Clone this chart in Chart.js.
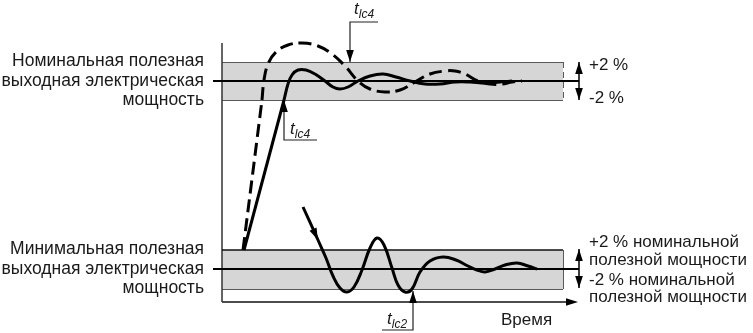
<!DOCTYPE html>
<html>
<head>
<meta charset="utf-8">
<script src="https://cdn.jsdelivr.net/npm/chart.js@4.4.0/dist/chart.umd.min.js"></script>
<style>
  html, body { margin: 0; padding: 0; background: #fff; }
  #wrap { width: 753px; height: 333px; }
</style>
</head>
<body>
<div id="wrap"><canvas id="grafico" width="753" height="333"></canvas></div>
<script>
// Ejes del esquema: tiempo (x) y potencia (y), unidades
const escalaTiempo = [0, 753];
const escalaPotencia = [0, 333];

// Bandas de +-2 % (arriba, centro, abajo) y su extension en el tiempo
const bandaNominal = [62, 81, 100];
const bandaMinima = [250, 269, 289];
const bandaTiempo = [222, 563];
const lineaNivelTiempo = [213, 579];

// Ejes del grafico
const ejeVertical = [[222, 43], [222, 302]];
const ejeTiempo = [[222, 302], [570, 302]];

// Curvas de potencia
const rampaContinua = [[244, 250], [284, 100]];
const curvaContinua = [[284, 100], [288, 84], [292, 75], [298, 70], [306, 70], [315, 74], [325, 81],
  [333, 87], [340, 89], [348, 87], [358, 81], [370, 76], [383, 74], [396, 77], [410, 81], [425, 84],
  [440, 84], [455, 82], [470, 82], [485, 83], [500, 82], [512, 81]];
const rampaDiscontinua = [[243, 250], [262, 100]];
const curvaDiscontinua = [[262, 100], [264, 80], [268, 64], [276, 52], [288, 45], [302, 43], [318, 46],
  [332, 54], [345, 66], [358, 81], [370, 89], [385, 92], [400, 90], [415, 82], [430, 74], [445, 71],
  [455, 71], [465, 74], [478, 81], [490, 84], [502, 84], [512, 82], [522, 81]];
const curvaMinima = [[303, 207], [318, 240], [326, 258], [333, 276], [340, 288], [347, 292], [354, 287],
  [362, 270], [370, 248], [377, 238], [384, 245], [392, 268], [398, 285], [405, 292], [412, 289],
  [420, 272], [430, 261], [443, 257], [456, 260], [468, 266], [477, 270], [485, 272], [495, 269],
  [505, 265], [517, 263], [528, 266], [537, 269]];

// Marcas de tiempo t_lc
const marcaSuperior = [[378, 22], [350, 22], [350, 62]];
const marcaMedia = [[284, 100], [284, 140], [317, 140]];
const marcaInferior = [[413, 291], [413, 330], [382, 330]];
const flechaNominal = [[579, 62], [579, 100]];
const flechaMinima = [[579, 249], [579, 288]];

// Puntas de flecha: [punta, origen]
const puntas = [
  [[578, 302], [560, 302]],
  [[579, 62], [579, 81]], [[579, 100], [579, 81]],
  [[579, 249], [579, 269]], [[579, 288], [579, 269]],
  [[350, 62], [350, 22]], [[284, 100], [284, 140]], [[413, 291], [413, 330]],
  [[318, 240], [303, 207]]
];

// Textos
const textosIzquierda = [
  ['Номинальная полезная', 66], ['выходная электрическая', 86], ['мощность', 105],
  ['Минимальная полезная', 254], ['выходная электрическая', 273.5], ['мощность', 293]
];
const textosDerecha = [
  ['+2 %', 70], ['-2 %', 103],
  ['+2 % номинальной', 247], ['полезной мощности', 265], ['-2 % номинальной', 285], ['полезной мощности', 302]
];
const etiquetasT = [['lc4', 354, 14], ['lc4', 290, 134], ['lc2', 387, 324]];
const textoTiempo = ['Время', 501, 325];

const aPuntos = arr => arr.map(p => ({ x: p[0], y: p[1] }));

function serie(datos, ancho, color, extra) {
  return Object.assign({
    data: aPuntos(datos), showLine: true, pointRadius: 0, borderColor: color,
    borderWidth: ancho, fill: false, tension: 0
  }, extra || {});
}

const fuente = '"Liberation Sans", Arial, sans-serif';

const pluginEsquema = {
  id: 'esquema',
  beforeDatasetsDraw(chart) {
    const { ctx, scales: { x, y } } = chart;
    [bandaNominal, bandaMinima].forEach((b, i) => {
      const x0 = x.getPixelForValue(bandaTiempo[0]), x1 = x.getPixelForValue(bandaTiempo[1]);
      const y0 = y.getPixelForValue(b[0]), y1 = y.getPixelForValue(b[2]);
      ctx.save();
      ctx.fillStyle = '#d6d6d6';
      ctx.fillRect(x0, y0, x1 - x0, y1 - y0);
      ctx.strokeStyle = '#5a5a5a';
      ctx.lineWidth = 1;
      ctx.beginPath();
      ctx.moveTo(x0, y1 + 0.5); ctx.lineTo(x1, y1 + 0.5);
      if (i === 0) { ctx.moveTo(x0, y0 + 0.5); ctx.lineTo(x1, y0 + 0.5); }
      ctx.stroke();
      if (i === 0) ctx.setLineDash([6, 4]);
      ctx.beginPath();
      ctx.moveTo(x1 + 0.5, y0); ctx.lineTo(x1 + 0.5, y1);
      ctx.stroke();
      ctx.restore();
    });
  },
  afterDatasetsDraw(chart) {
    const { ctx, scales: { x, y } } = chart;
    ctx.save();
    ctx.fillStyle = '#000';
    puntas.forEach(([t, o]) => {
      const tx = x.getPixelForValue(t[0]), ty = y.getPixelForValue(t[1]);
      const ox = x.getPixelForValue(o[0]), oy = y.getPixelForValue(o[1]);
      const a = Math.atan2(ty - oy, tx - ox), l = 12, w = 3.8;
      ctx.beginPath();
      ctx.moveTo(tx, ty);
      ctx.lineTo(tx - l * Math.cos(a) + w * Math.sin(a), ty - l * Math.sin(a) - w * Math.cos(a));
      ctx.lineTo(tx - l * Math.cos(a) - w * Math.sin(a), ty - l * Math.sin(a) + w * Math.cos(a));
      ctx.closePath();
      ctx.fill();
    });
    ctx.fillStyle = '#1a1a1a';
    ctx.font = '17.5px ' + fuente;
    ctx.textBaseline = 'alphabetic';
    ctx.textAlign = 'right';
    textosIzquierda.forEach(([s, v]) => ctx.fillText(s, x.getPixelForValue(204), y.getPixelForValue(v)));
    ctx.font = '17px ' + fuente;
    ctx.textAlign = 'left';
    textosDerecha.forEach(([s, v]) => ctx.fillText(s, x.getPixelForValue(589), y.getPixelForValue(v)));
    ctx.fillText(textoTiempo[0], x.getPixelForValue(textoTiempo[1]), y.getPixelForValue(textoTiempo[2]));
    etiquetasT.forEach(([s, px, py]) => {
      const bx = x.getPixelForValue(px), by = y.getPixelForValue(py);
      ctx.font = 'italic 17px ' + fuente;
      ctx.fillText('t', bx, by);
      const w = ctx.measureText('t').width;
      ctx.font = 'italic 12px ' + fuente;
      ctx.fillText(s, bx + w, by + 4);
    });
    ctx.restore();
  }
};

const grafico = document.getElementById('grafico').getContext('2d');

new Chart(grafico, {
  type: 'scatter',
  data: {
    datasets: [
      serie(curvaContinua, 3, '#000', { tension: 0.4 }),
      serie(rampaContinua, 3, '#000'),
      serie(curvaDiscontinua, 3, '#000', { tension: 0.4, borderDash: [13, 6] }),
      serie(rampaDiscontinua, 3, '#000', { borderDash: [13, 6] }),
      serie(curvaMinima, 3, '#000', { tension: 0.4 }),
      serie([[lineaNivelTiempo[0], bandaNominal[1]], [lineaNivelTiempo[1], bandaNominal[1]]], 2.2, '#000'),
      serie([[lineaNivelTiempo[0], bandaMinima[1]], [lineaNivelTiempo[1], bandaMinima[1]]], 2.2, '#000'),
      serie([[bandaTiempo[0], bandaMinima[0]], [bandaTiempo[1], bandaMinima[0]]], 1.6, '#111'),
      serie(ejeVertical, 1.5, '#333'),
      serie(ejeTiempo, 1.5, '#111'),
      serie(marcaSuperior, 1.2, '#222'),
      serie(marcaMedia, 1.2, '#222'),
      serie(marcaInferior, 1.2, '#222'),
      serie(flechaNominal, 1.5, '#000'),
      serie(flechaMinima, 1.5, '#000')
    ]
  },
  options: {
    responsive: false,
    animation: false,
    devicePixelRatio: 1,
    layout: { padding: 0 },
    plugins: { legend: { display: false }, tooltip: { enabled: false } },
    scales: {
      x: { type: 'linear', min: escalaTiempo[0], max: escalaTiempo[1], display: false },
      y: { type: 'linear', min: escalaPotencia[0], max: escalaPotencia[1], reverse: true, display: false }
    }
  },
  plugins: [pluginEsquema]
});
</script>
</body>
</html>
